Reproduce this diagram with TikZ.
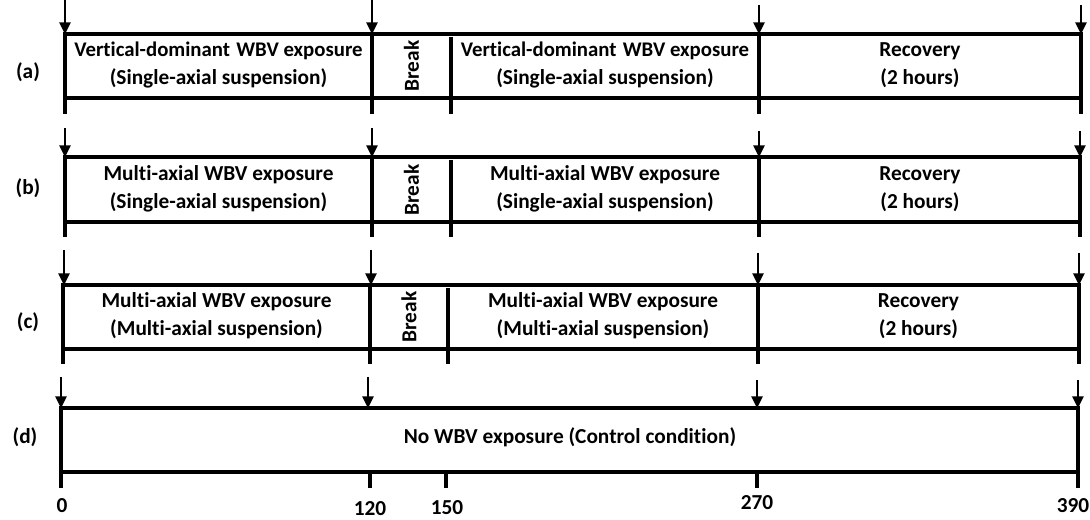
\documentclass[tikz,border=0pt]{standalone}
\usepackage{fontspec}
\setmainfont{Carlito}[Ligatures=NoCommon]
\usetikzlibrary{arrows.meta}
\begin{document}
\begin{tikzpicture}[x=0.75pt,y=-0.75pt,
  font=\bfseries\fontsize{16}{21}\selectfont,
  frame/.style={line width=2.4pt},
  arr/.style={-{Triangle[width=8.5pt,length=9pt]}, line width=1.2pt, shorten >=-1pt},
  txt/.style={align=center, inner sep=0pt},
  brk/.style={inner sep=0pt, rotate=90},
  lab/.style={inner sep=0pt},
  num/.style={inner sep=0pt}]
\useasboundingbox (0,0) rectangle (1090,520);

% ---------- row (a)
\draw[frame] (65,114) -- (65,34) -- (1081,34) -- (1081,114);
\draw[frame] (65,98) -- (1081,98);
\draw[frame] (372,34) -- (372,114);
\draw[frame] (451,37) -- (451,114);
\draw[frame] (759,34) -- (759,114);
\coordinate (a0s) at (65,0);   \coordinate (a0t) at (65,33);
\coordinate (a1s) at (372,0);  \coordinate (a1t) at (372,33);
\coordinate (a2s) at (759,5);  \coordinate (a2t) at (759,33);
\coordinate (a3s) at (1081,5); \coordinate (a3t) at (1081,33);
\draw[arr] (a0s) -- (a0t);
\draw[arr] (a1s) -- (a1t);
\draw[arr] (a2s) -- (a2t);
\draw[arr] (a3s) -- (a3t);
\node[lab] (la) at (28,72) {(a)};
\node[txt] (a1) at (218.5,65) {{\fontsize{15.6}{21}\selectfont Vertical-dominant\hspace{0.3em}WBV exposure}\\(Single-axial suspension)};
\node[brk] (ab) at (411.5,66) {Break};
\node[txt] (a2) at (605,65) {{\fontsize{15.6}{21}\selectfont Vertical-dominant\hspace{0.3em}WBV exposure}\\(Single-axial suspension)};
\node[txt] (a3) at (920,65) {Recovery\\(2 hours)};

% ---------- row (b)
\draw[frame] (65,237) -- (65,157) -- (1080,157) -- (1080,237);
\draw[frame] (65,222) -- (1080,222);
\draw[frame] (372,157) -- (372,237);
\draw[frame] (451,160) -- (451,237);
\draw[frame] (759,157) -- (759,237);
\coordinate (b0s) at (65,128);   \coordinate (b0t) at (65,156);
\coordinate (b1s) at (372,128);  \coordinate (b1t) at (372,156);
\coordinate (b2s) at (759,131);  \coordinate (b2t) at (759,156);
\coordinate (b3s) at (1080,131); \coordinate (b3t) at (1080,156);
\draw[arr] (b0s) -- (b0t);
\draw[arr] (b1s) -- (b1t);
\draw[arr] (b2s) -- (b2t);
\draw[arr] (b3s) -- (b3t);
\node[lab] (lb) at (28,188) {(b)};
\node[txt] (b1) at (218.5,189) {Multi-axial WBV exposure\\(Single-axial suspension)};
\node[brk] (bb) at (411.5,190) {Break};
\node[txt] (b2) at (605,189) {Multi-axial WBV exposure\\(Single-axial suspension)};
\node[txt] (b3) at (920,189) {Recovery\\(2 hours)};

% ---------- row (c)
\draw[frame] (63,364) -- (63,285) -- (1079,285) -- (1079,364);
\draw[frame] (63,349) -- (1079,349);
\draw[frame] (370,285) -- (370,364);
\draw[frame] (448,288) -- (448,364);
\draw[frame] (758,285) -- (758,364);
\coordinate (c0s) at (64,250);   \coordinate (c0t) at (64,284);
\coordinate (c1s) at (371,250);  \coordinate (c1t) at (371,284);
\coordinate (c2s) at (758,253);  \coordinate (c2t) at (758,284);
\coordinate (c3s) at (1079,253); \coordinate (c3t) at (1079,284);
\draw[arr] (c0s) -- (c0t);
\draw[arr] (c1s) -- (c1t);
\draw[arr] (c2s) -- (c2t);
\draw[arr] (c3s) -- (c3t);
\node[lab] (lc) at (28,322) {(c)};
\node[txt] (c1) at (216.5,316) {Multi-axial WBV exposure\\(Multi-axial suspension)};
\node[brk] (cb) at (409,317) {Break};
\node[txt] (c2) at (603,316) {Multi-axial WBV exposure\\(Multi-axial suspension)};
\node[txt] (c3) at (918.5,316) {Recovery\\(2 hours)};

% ---------- row (d)
\draw[frame] (61,488) -- (61,408) -- (1078,408) -- (1078,488);
\draw[frame] (61,472) -- (1078,472);
\draw[frame] (370,472) -- (370,488);
\draw[frame] (446,472) -- (446,488);
\draw[frame] (757,472) -- (757,488);
\coordinate (d0s) at (61,377);   \coordinate (d0t) at (61,407);
\coordinate (d1s) at (368,377);  \coordinate (d1t) at (368,407);
\coordinate (d2s) at (757,380);  \coordinate (d2t) at (757,407);
\coordinate (d3s) at (1078,380); \coordinate (d3t) at (1078,407);
\draw[arr] (d0s) -- (d0t);
\draw[arr] (d1s) -- (d1t);
\draw[arr] (d2s) -- (d2t);
\draw[arr] (d3s) -- (d3t);
\node[lab] (ld) at (25,437) {(d)};
\node[txt] (d1) at (570,437) {No WBV exposure (Control condition)};

% ---------- axis numbers
\node[num] (n0) at (62,506) {0};
\node[num] (n120) at (370,509) {120};
\node[num] (n150) at (447,508) {150};
\node[num] (n270) at (757,503) {270};
\node[num] (n390) at (1073,506) {390};
\end{tikzpicture}
\end{document}
